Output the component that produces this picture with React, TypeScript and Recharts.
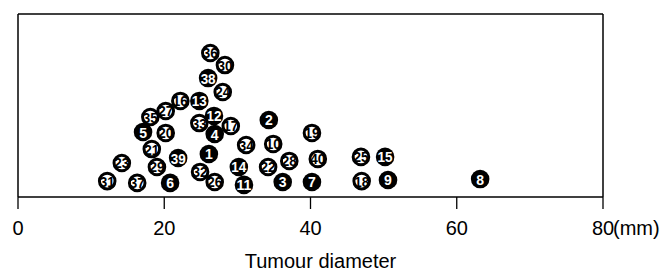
import { ScatterChart, Scatter, XAxis, YAxis, ReferenceLine, Label } from "recharts";

// case number, tumour diameter (mm), vertical stacking position, filled marker
const caseIds = [31, 37, 23, 29, 6, 39, 21, 5, 20, 35, 27, 16, 13, 12, 33, 4, 17, 1, 32, 26, 14, 11, 34, 36, 30, 38, 24, 2, 10, 22, 28, 3, 7, 19, 40, 25, 15, 18, 9, 8];
const diameters = [12.2, 16.3, 14.2, 19.0, 20.8, 21.9, 18.3, 17.1, 20.2, 18.1, 20.2, 22.2, 24.8, 26.8, 24.8, 26.9, 29.1, 26.1, 24.9, 26.9, 30.2, 30.9, 31.2, 26.3, 28.3, 26.0, 28.0, 34.3, 34.9, 34.2, 37.1, 36.2, 40.2, 40.2, 41.0, 46.9, 50.2, 47.0, 50.6, 63.2];
const stackPos = [8.7, 7.7, 18.6, 16.4, 7.7, 21.3, 26.2, 35.5, 35.0, 43.7, 47.0, 52.5, 52.5, 44.3, 40.4, 34.4, 38.8, 23.5, 13.7, 8.2, 16.4, 6.6, 28.4, 78.7, 72.1, 65.0, 57.4, 42.1, 29.0, 16.4, 19.7, 8.2, 8.2, 35.0, 20.8, 21.9, 21.9, 8.7, 9.3, 9.8];
const filledIds = [5, 13, 12, 4, 1, 6, 14, 11, 2, 3, 7, 15, 9, 8, 39, 38];

const xTicks = [0, 20, 40, 60, 80];

const points = caseIds.map((id, i) => ({
  id,
  x: diameters[i],
  y: stackPos[i],
  filled: filledIds.includes(id),
}));

const FONT = "'Liberation Sans', Arial, sans-serif";

function Marker(props: any) {
  const { cx, cy, payload } = props;
  const label = String(payload.id);
  const two = label.length > 1;
  return (
    <g>
      {payload.filled ? (
        <circle cx={cx} cy={cy} r={9.3} fill="#000" />
      ) : (
        <circle cx={cx} cy={cy} r={7.8} fill="#fff" stroke="#000" strokeWidth={3} />
      )}
      <text
        x={cx}
        y={cy + 0.5}
        textAnchor="middle"
        dominantBaseline="central"
        fontFamily={FONT}
        fontWeight="bold"
        fontSize={14}
        fill={payload.filled ? "#fff" : "#000"}
        textLength={two ? 15 : undefined}
        lengthAdjust="spacingAndGlyphs"
      >
        {label}
      </text>
    </g>
  );
}

function Tick(props: any) {
  const { x, y, payload } = props;
  return (
    <g>
      <line x1={x} y1={y} x2={x} y2={y + 12} stroke="#000" strokeWidth={1.3} />
      <text x={x} y={y + 38} textAnchor="middle" fontFamily={FONT} fontSize={20} fill="#000">
        {payload.value}
      </text>
      {payload.value === 80 && (
        <text x={x + 10} y={y + 38} textAnchor="start" fontFamily={FONT} fontSize={20} fill="#000">
          (mm)
        </text>
      )}
    </g>
  );
}

export default function App() {
  return (
    <div style={{ width: 664, height: 271, background: "#fff" }}>
      <style>{`body{margin:0}`}</style>
      <ScatterChart width={664} height={271} margin={{ top: 14, right: 61, bottom: 0, left: 18 }}>
        <XAxis
          type="number"
          dataKey="x"
          domain={[0, 80]}
          ticks={xTicks}
          height={74}
          tickSize={0}
          tickMargin={0}
          tickLine={false}
          axisLine={{ stroke: "#000", strokeWidth: 1.5 }}
          tick={<Tick />}
          interval={0}
        >
          <Label
            content={(p: any) => (
              <text
                x={p.viewBox.x + p.viewBox.width / 2 + 10}
                y={p.viewBox.y + 71}
                textAnchor="middle"
                fontFamily={FONT}
                fontSize={20}
                fill="#000"
              >
                Tumour diameter
              </text>
            )}
          />
        </XAxis>
        <YAxis type="number" dataKey="y" domain={[0, 100]} hide />
        <ReferenceLine y={100} stroke="#000" strokeWidth={1.5} />
        <ReferenceLine x={0} stroke="#000" strokeWidth={1.5} />
        <ReferenceLine x={80} stroke="#000" strokeWidth={1.5} />
        <Scatter data={points} shape={<Marker />} isAnimationActive={false} />
      </ScatterChart>
    </div>
  );
}
